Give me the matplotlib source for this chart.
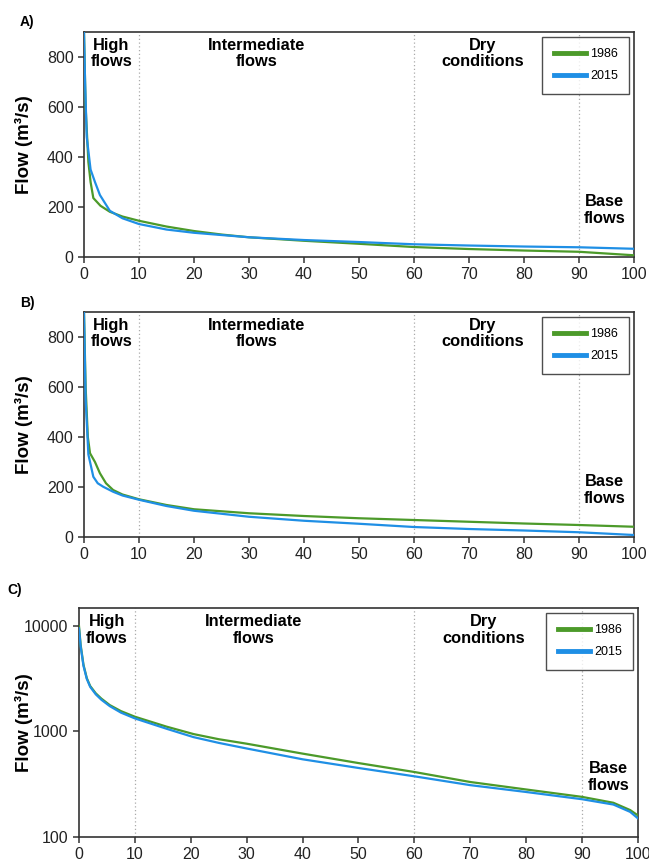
import numpy as np
import matplotlib
matplotlib.use('Agg')
from matplotlib import pyplot as plt

plt.rcParams['font.family'] = ['Liberation Sans', 'DejaVu Sans']

# 流量历时曲线数据（超越概率 %，流量 m3/s）
a_x_1986 = [0, 0.3, 0.8, 1.2, 1.7, 3, 4.7, 7, 10, 15, 20, 25, 30, 40, 50, 60, 70, 80, 90, 100]
a_y_1986 = [900, 600, 380, 300, 236, 205, 181, 162, 145, 122, 104, 90, 79, 65, 53, 40, 32, 26, 21, 7]
a_x_2015 = [0, 0.2, 0.5, 1.2, 2, 2.9, 4.7, 7, 10, 15, 20, 30, 40, 50, 60, 70, 80, 90, 100]
a_y_2015 = [900, 700, 480, 350, 300, 248, 185, 155, 132, 110, 97, 79, 68, 60, 51, 46, 42, 39, 33]

b_x_1986 = [0, 0.3, 0.7, 1.1, 2, 2.9, 4, 5.3, 7, 10, 15, 20, 30, 40, 50, 60, 70, 80, 90, 100]
b_y_1986 = [900, 600, 400, 335, 300, 255, 215, 188, 170, 151, 128, 111, 95, 84, 75, 68, 61, 54, 48, 41]
b_x_2015 = [0, 0.3, 0.8, 1.7, 2.5, 3.5, 5.3, 7, 10, 15, 20, 30, 40, 50, 60, 70, 80, 90, 100]
b_y_2015 = [900, 550, 330, 241, 215, 201, 181, 166, 149, 124, 105, 81, 65, 53, 40, 32, 26, 19, 8]

c_x = [0, 0.3, 0.8, 1.4, 2, 3, 4, 5.5, 7.5, 10, 15.7, 20.5, 25, 30, 40, 50, 60, 70, 80, 90, 95.6, 98.6, 100]
c_y_1986 = [10000, 6600, 4300, 3200, 2700, 2300, 2050, 1780, 1560, 1380, 1110, 945, 845, 766, 617, 502, 413, 332, 282, 240, 211, 180, 160]
c_y_2015 = [9500, 6400, 4200, 3150, 2650, 2250, 2000, 1740, 1510, 1330, 1060, 884, 780, 690, 545, 451, 376, 310, 267, 228, 203, 173, 150]

years = ['1986', '2015']
colors = ['#4c9a2a', '#1f8fe5']
bounds = [10, 60, 90]
x_ticks = [0, 10, 20, 30, 40, 50, 60, 70, 80, 90, 100]

fig = plt.figure(figsize=(6.49, 8.66), dpi=100)
ax_a = fig.add_axes([0.1294, 0.7032, 0.8475, 0.2598])
ax_b = fig.add_axes([0.1294, 0.3799, 0.8475, 0.2598])
ax_c = fig.add_axes([0.1217, 0.0335, 0.8613, 0.2644])


def style(ax, letter, lx, ly, base_y, xs):
    for s in ax.spines.values():
        s.set_linewidth(1.2)
        s.set_color('#333333')
    ax.tick_params(direction='out', length=4, width=1.1, colors='#333333',
                   labelsize=11.5, labelcolor='#222222')
    ax.set_xlim(0, 100)
    ax.set_xticks(x_ticks)
    for b in bounds:
        ax.axvline(b, color='#aaaaaa', lw=0.9, ls=(0, (1, 2)), zorder=1)
    ax.set_ylabel('Flow (m³/s)', fontsize=13.5, fontweight='bold')
    ax.yaxis.set_label_coords(xs, 0.5)
    fig.text(lx, ly, letter, fontsize=10, fontweight='bold', ha='left', va='center')
    leg = ax.legend(loc='upper right', fontsize=9, frameon=True, fancybox=False,
                    edgecolor='#222222', handlelength=2.6, borderpad=0.9,
                    labelspacing=0.8, borderaxespad=0.4, handletextpad=0.3)
    leg.get_frame().set_linewidth(1.0)
    for line in leg.get_lines():
        line.set_linewidth(3.5)
    kw = dict(transform=ax.transAxes, fontsize=11.8, fontweight='bold', ha='center',
              va='top', linespacing=1.15)
    ax.text(0.05, 0.975, 'High\nflows', **kw)
    ax.text(0.313, 0.975, 'Intermediate\nflows', **kw)
    ax.text(0.724, 0.975, 'Dry\nconditions', **kw)
    ax.text(0.947, base_y, 'Base\nflows', **kw)


# A) 和 B) 线性坐标
for ax, data, letter, ly in [
        (ax_a, [(a_x_1986, a_y_1986), (a_x_2015, a_y_2015)], 'A)', 1 - 22 / 866),
        (ax_b, [(b_x_1986, b_y_1986), (b_x_2015, b_y_2015)], 'B)', 1 - 303 / 866)]:
    for (xs, ys), yr, c in zip(data, years, colors):
        ax.plot(xs, ys, color=c, lw=1.6, label=yr, zorder=3)
    ax.set_ylim(0, 900)
    ax.set_yticks([0, 200, 400, 600, 800])
    style(ax, letter, 0.031, ly, 0.28, -0.093)

# C) 对数坐标
for ys, yr, c in zip([c_y_1986, c_y_2015], years, colors):
    ax_c.plot(c_x, ys, color=c, lw=1.6, label=yr, zorder=3)
ax_c.set_yscale('log')
ax_c.set_ylim(100, 14800)
ax_c.set_yticks([100, 1000, 10000])
ax_c.set_yticklabels(['100', '1000', '10000'])
ax_c.yaxis.set_minor_locator(matplotlib.ticker.NullLocator())
style(ax_c, 'C)', 0.012, 1 - 590 / 866, 0.33, -0.082)

plt.savefig('out.png', dpi=100)
